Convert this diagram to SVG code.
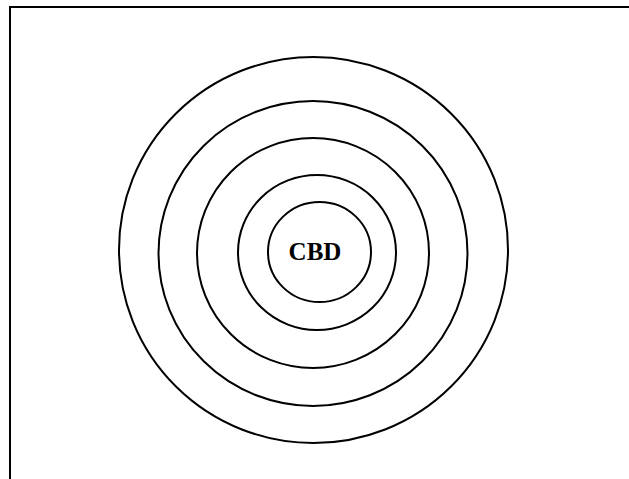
<svg xmlns="http://www.w3.org/2000/svg" width="629" height="479" viewBox="0 0 629 479">
  <style>
    .ring { fill: none; stroke: #000; stroke-width: 2; }
    .frame { fill: none; stroke: #000; stroke-width: 2; }
    .label { font-family: "Liberation Serif", "Times New Roman", serif; font-weight: bold; font-size: 25px; fill: #000; text-anchor: middle; }
  </style>
  <rect width="629" height="479" fill="#fff"/>
  <rect class="frame" x="10" y="7" width="640" height="500"/>
  <g id="ring5"><ellipse class="ring" cx="313.5" cy="250" rx="194.5" ry="193"/></g>
  <g id="ring4"><ellipse class="ring" cx="313" cy="253.5" rx="154.5" ry="152.5"/></g>
  <g id="ring3"><ellipse class="ring" cx="313" cy="253" rx="116" ry="115"/></g>
  <g id="ring2"><ellipse class="ring" cx="317" cy="252.5" rx="79" ry="77.5"/></g>
  <g id="cbd">
    <ellipse class="ring" cx="319.5" cy="252" rx="51.5" ry="50"/>
    <text class="label" x="315" y="260">CBD</text>
  </g>
  <g id="connectors"/>
</svg>
